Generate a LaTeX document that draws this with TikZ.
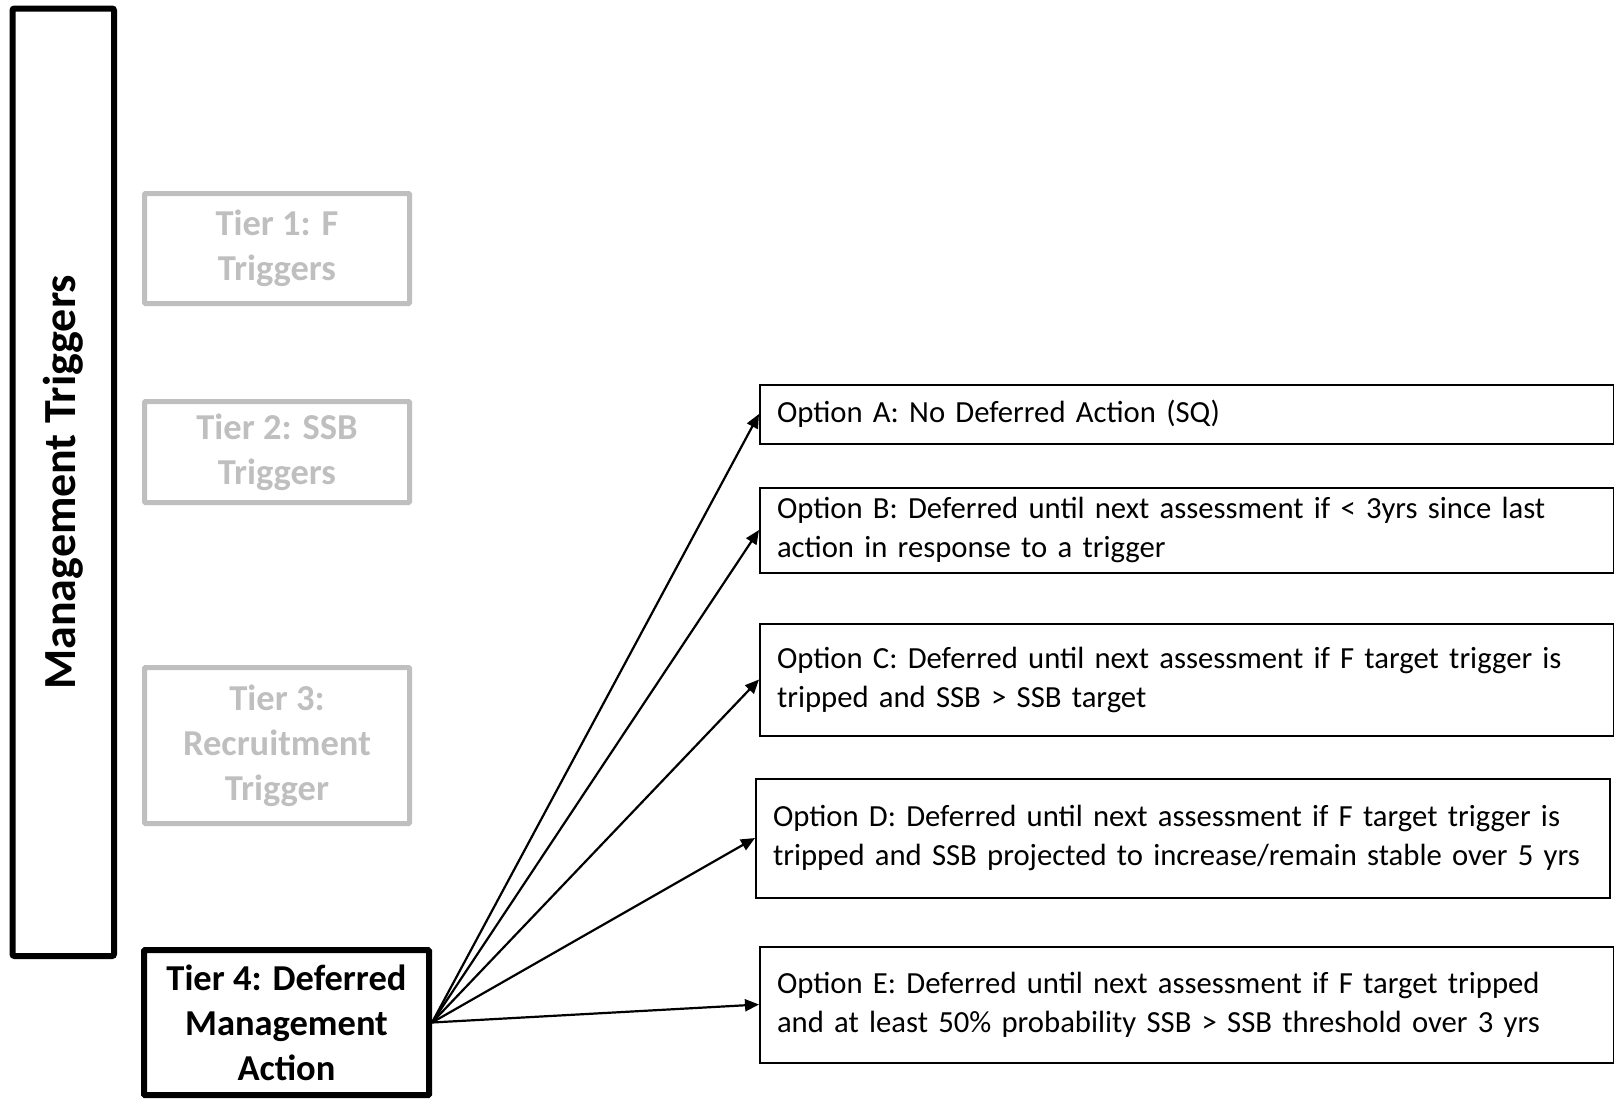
\documentclass[tikz,border=0pt]{standalone}
\usepackage{fontspec}
\setmainfont{Carlito}
\usepackage{tikz}
\usetikzlibrary{arrows.meta,positioning}
\definecolor{faded}{RGB}{191,191,191}

\begin{document}
\begin{tikzpicture}[x=1pt,y=-1pt,>={Triangle[length=14pt,width=12pt]},
  mgmt/.style={draw=black,line width=6pt,rounded corners=2pt,rotate=90,align=center,
    font=\fontsize{46}{52}\selectfont\bfseries},
  tierbox/.style={draw=faded,line width=5pt,rounded corners=1pt,align=center,text=faded,
    minimum width=265pt,font=\fontsize{36.5}{45}\selectfont\bfseries},
  activebox/.style={draw=black,line width=6pt,rounded corners=1pt,align=center,
    minimum width=285pt,font=\fontsize{36.5}{45}\selectfont\bfseries},
  optbox/.style={draw=black,line width=2pt,anchor=west,align=left,inner xsep=17pt,
    text width=820pt,font=\fontsize{30.7}{39}\selectfont},
  link/.style={->,line width=2.2pt}]
\useasboundingbox (0,0) rectangle (1614,1103);

% ---------- left column: the tiers ----------
\node[mgmt,minimum width=947.5pt,minimum height=101.5pt] (mgmt) at (63.25,482.25) {Management Triggers};
\node[tierbox,minimum height=110pt] (tier1) at (277,248.5) {Tier 1: F\\Triggers};
\node[tierbox,minimum height=101pt] (tier2) at (277,452) {Tier 2: SSB\\Triggers};
\node[tierbox,minimum height=156pt] (tier3) at (277,745.5) {Tier 3:\\Recruitment\\Trigger};
\node[activebox,minimum height=145pt] (tier4) at (286.5,1022.5) {Tier 4: Deferred\\Management\\Action};

% ---------- right column: the options ----------
\node[optbox,minimum height=59pt] (optA) at (759,414) {Option A: No Deferred Action (SQ)};
\node[optbox,minimum height=85pt] (optB) at (759,530) {Option B: Deferred until next assessment if < 3yrs since last\\action in response to a trigger};
\node[optbox,minimum height=112pt] (optC) at (759,679.5) {Option C: Deferred until next assessment if F target trigger is\\tripped and SSB > SSB target};
\node[optbox,minimum height=119pt] (optD) at (755,838) {Option D: Deferred until next assessment if F target trigger is\\tripped and SSB projected to increase/remain stable over 5 yrs};
\node[optbox,minimum height=116pt] (optE) at (759,1004.5) {Option E: Deferred until next assessment if F target tripped\\and at least 50\% probability SSB > SSB threshold over 3 yrs};

% ---------- links ----------
\foreach \opt in {optA,optB,optC,optD,optE}
  \draw[link] (tier4.east) -- (\opt.west);
\end{tikzpicture}
\end{document}
